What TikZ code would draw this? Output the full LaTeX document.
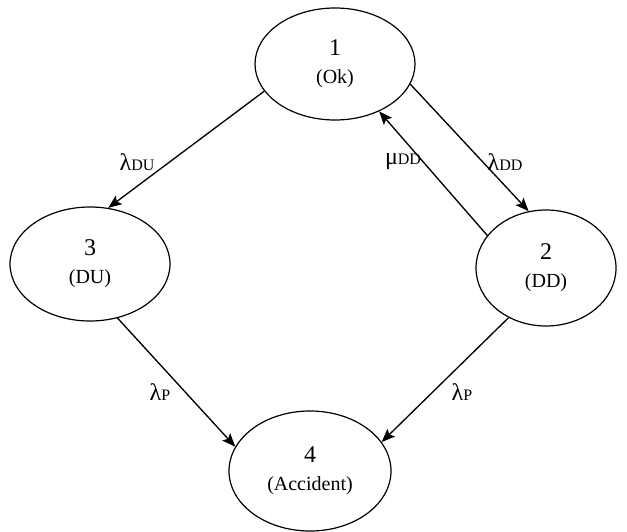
\documentclass[tikz,border=0pt]{standalone}
\usepackage{fontspec}
\setmainfont{Liberation Serif}
\usetikzlibrary{shapes.geometric,arrows.meta}
\tikzset{
  state/.style={draw, ellipse, line width=0.9pt, inner sep=0pt, align=center,
    font=\fontsize{18}{21}\selectfont},
  link/.style={line width=1pt, -{Stealth[length=10pt,width=8pt,inset=2pt]}},
  rate/.style={font=\fontsize{18}{20}\selectfont, inner sep=0pt}
}
\newcommand{\sbs}[1]{{\fontsize{12}{14}\selectfont #1}}
\newcommand{\sub}[1]{{\fontsize{15}{21}\selectfont #1}}
\begin{document}
\begin{tikzpicture}[x=0.75pt,y=-0.75pt]
\useasboundingbox (0,0) rectangle (627,531);
\node[state, minimum width=120pt, minimum height=84pt] (n1) at (335,64) {1\\\sub{(Ok)}};
\node[state, minimum width=120pt, minimum height=85.5pt] (n3) at (90,264) {3\\\sub{(DU)}};
\node[state, minimum width=105pt, minimum height=87pt] (n2) at (546,268) {2\\\sub{(DD)}};
\node[state, minimum width=121.5pt, minimum height=90pt] (n4) at (310,471) {4\\\sub{(Accident)}};

\draw[link] (n1.201) -- (n3.72);
\draw[link] (n1.345) -- (n2.107);
\draw[link] (n2.151) -- (n1.313);
\draw[link] (n3.297) -- (n4.162);
\draw[link] (n2.233) -- (n4.22);

\node[rate] (l13) at (137,162) {λ\sbs{DU}};
\node[rate] (l21) at (403,162) {μ\sbs{DD}};
\node[rate] (l12) at (505,162) {λ\sbs{DD}};
\node[rate] (l34) at (160,392) {λ\sbs{P}};
\node[rate] (l24) at (462,392) {λ\sbs{P}};
\end{tikzpicture}
\end{document}
